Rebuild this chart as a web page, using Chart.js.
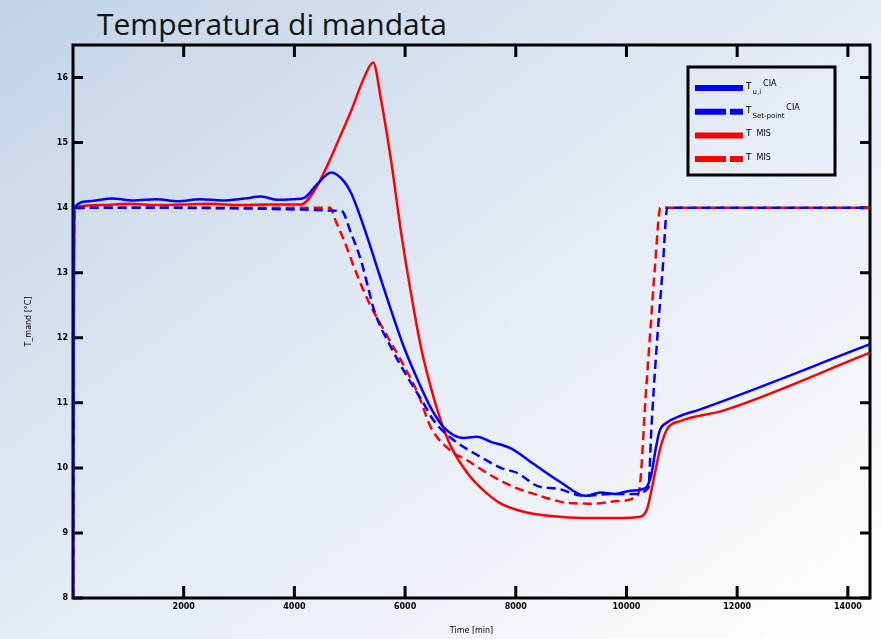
<!DOCTYPE html>
<html>
<head>
<meta charset="utf-8">
<script src="https://cdn.jsdelivr.net/npm/chart.js@4.4.0/dist/chart.umd.min.js"></script>
<style>
  html, body { margin: 0; padding: 0; }
  body {
    width: 881px; height: 639px; overflow: hidden; position: relative;
    background: linear-gradient(to bottom right, #c2d3e8 0%, #e4ebf4 50%, #fdfdfe 100%);
  }
  #title {
    position: absolute; left: 97px; top: 3px;
    font-family: "Open Sans", sans-serif; font-size: 30px; color: #141414;
    white-space: nowrap;
  }
  #chart { position: absolute; left: 0; top: 0; }
</style>
</head>
<body>
<div id="title">Temperatura di mandata</div>
<canvas id="chart" width="881" height="639"></canvas>
<script>
// supply temperature, time in minutes
const timeUiCIA = [0, 20, 300, 700, 1100, 1500, 1900, 2300, 2700, 3100, 3400, 3700, 4000, 4180, 4400, 4667, 4900, 5027, 5261, 5514, 5748, 5982, 6234, 6468, 6703, 7063, 7300, 7550, 7910, 8324, 8811, 9261, 9532, 9800, 10072, 10342, 10450, 10530, 10600, 10739, 10973, 11333, 14400];
const tempUiCIA = [8, 14.0, 14.1, 14.14, 14.11, 14.13, 14.1, 14.13, 14.11, 14.14, 14.17, 14.12, 14.13, 14.15, 14.35, 14.54, 14.4, 14.22, 13.69, 13.03, 12.42, 11.85, 11.34, 10.92, 10.62, 10.46, 10.48, 10.4, 10.3, 10.06, 9.78, 9.57, 9.62, 9.6, 9.65, 9.69, 9.9, 10.3, 10.57, 10.7, 10.8, 10.9, 11.9];

const timeSetCIA = [0, 20, 4847, 5027, 5207, 5333, 5441, 5748, 6054, 6342, 6523, 6829, 7423, 7730, 8036, 8396, 8757, 9225, 9712, 10126, 10396, 10450, 10540, 10650, 10739, 14400];
const tempSetCIA = [8, 14, 13.95, 13.6, 13.18, 12.77, 12.42, 11.85, 11.38, 10.98, 10.72, 10.46, 10.14, 10.0, 9.92, 9.72, 9.68, 9.57, 9.6, 9.6, 9.69, 10.6, 11.8, 13.0, 14, 14];

const timeMIS = [0, 20, 500, 1000, 1500, 2000, 2500, 3000, 3500, 4126, 4360, 4613, 4793, 5027, 5261, 5423, 5568, 5748, 5928, 6108, 6288, 6468, 6649, 6829, 7135, 7423, 7730, 8216, 8631, 9225, 9838, 10252, 10378, 10486, 10613, 10739, 10973, 11748, 14400];
const tempMIS = [8, 14.0, 14.04, 14.06, 14.04, 14.05, 14.06, 14.04, 14.05, 14.05, 14.26, 14.68, 15.03, 15.49, 16.0, 16.23, 15.65, 14.72, 13.62, 12.68, 11.85, 11.23, 10.72, 10.33, 9.91, 9.65, 9.45, 9.31, 9.26, 9.23, 9.23, 9.25, 9.38, 9.8, 10.31, 10.6, 10.72, 10.88, 11.77];

const timeSetMIS = [0, 20, 4650, 4720, 4901, 5081, 5333, 5622, 5928, 6234, 6468, 6829, 7135, 7423, 7730, 8036, 8324, 8631, 8937, 9405, 9838, 10198, 10252, 10342, 10432, 10523, 10613, 14400];
const tempSetMIS = [8, 14, 14, 13.85, 13.49, 13.08, 12.57, 12.11, 11.65, 11.14, 10.62, 10.26, 10.11, 9.95, 9.8, 9.68, 9.6, 9.52, 9.46, 9.45, 9.49, 9.57, 9.8, 11.03, 12.11, 13.18, 14, 14];

const xTicks = [2000, 4000, 6000, 8000, 10000, 12000, 14000];
const yTicks = [8, 9, 10, 11, 12, 13, 14, 15, 16];

// legend text pieces: main symbol, subscript, suffix
const legendParts = [
    ['T', 'u,i', 'CIA'],
    ['T', 'Set-point', 'CIA'],
    ['T', '', 'MIS'],
    ['T', '', 'MIS']
];

function zip(ts, vs) {
    return ts.map((t, i) => ({x: t, y: vs[i]}));
}

function makeSet(label, ts, vs, color, dashed) {
    return {
        label: label,
        data: zip(ts, vs),
        borderColor: color,
        backgroundColor: color,
        borderWidth: 2.5,
        borderDash: dashed ? [9, 5] : [],
        pointRadius: 0,
        fill: false,
        cubicInterpolationMode: 'monotone'
    };
}

// MATLAB style box with inward tick marks
const boxAndTicks = {
    id: 'boxAndTicks',
    beforeDatasetsDraw(chart) {
        const {ctx, chartArea: a, scales: {x, y}} = chart;
        ctx.save();
        ctx.strokeStyle = '#000';
        ctx.lineWidth = 3;
        ctx.strokeRect(a.left, a.top, a.right - a.left, a.bottom - a.top);
        ctx.beginPath();
        xTicks.forEach(v => {
            const px = x.getPixelForValue(v);
            ctx.moveTo(px, a.bottom); ctx.lineTo(px, a.bottom - 12);
            ctx.moveTo(px, a.top); ctx.lineTo(px, a.top + 12);
        });
        yTicks.forEach(v => {
            const py = y.getPixelForValue(v);
            ctx.moveTo(a.left, py); ctx.lineTo(a.left + 10, py);
            ctx.moveTo(a.right, py); ctx.lineTo(a.right - 10, py);
        });
        ctx.stroke();
        ctx.restore();
    }
};

const boxLegend = {
    id: 'boxLegend',
    afterDatasetsDraw(chart) {
        const {ctx, chartArea: a} = chart;
        const left = a.right - 182, top = a.top + 22, w = 147, h = 108;
        ctx.save();
        ctx.strokeStyle = '#000';
        ctx.lineWidth = 3;
        ctx.strokeRect(left, top, w, h);
        chart.data.datasets.forEach((ds, i) => {
            const yy = top + 21 + i * 23.7;
            ctx.strokeStyle = ds.borderColor;
            ctx.lineWidth = 6;
            ctx.setLineDash(ds.borderDash.length ? [31, 4] : []);
            ctx.beginPath();
            ctx.moveTo(left + 7, yy);
            ctx.lineTo(left + 55, yy);
            ctx.stroke();
            ctx.setLineDash([]);
            const p = legendParts[i];
            let tx = left + 58;
            ctx.fillStyle = '#000';
            ctx.textBaseline = 'alphabetic';
            ctx.font = '9px "DejaVu Sans", sans-serif';
            ctx.fillText(p[0], tx, yy + 1);
            tx += ctx.measureText(p[0]).width + 1;
            ctx.font = '7px "DejaVu Sans", sans-serif';
            if (p[1]) {
                ctx.fillText(p[1], tx, yy + 6);
                tx += ctx.measureText(p[1]).width + 2;
            } else {
                tx += 4;
            }
            ctx.font = '8px "DejaVu Sans", sans-serif';
            ctx.fillText(p[2], tx, p[1] ? yy - 2 : yy + 1);
        });
        ctx.restore();
    }
};

const ctx = document.getElementById('chart').getContext('2d');

const chart = new Chart(ctx, {
    type: 'line',
    data: {
        datasets: [
            makeSet('T u,i CIA', timeUiCIA, tempUiCIA, '#0000ff', false),
            makeSet('T Set-point CIA', timeSetCIA, tempSetCIA, '#0000ff', true),
            makeSet('T MIS', timeMIS, tempMIS, '#ff0000', false),
            makeSet('T MIS', timeSetMIS, tempSetMIS, '#ff0000', true)
        ]
    },
    options: {
        responsive: false,
        animation: false,
        layout: {
            padding: {left: 0, top: 45, right: 11, bottom: 0}
        },
        plugins: {
            legend: {display: false},
            tooltip: {enabled: false}
        },
        scales: {
            x: {
                type: 'linear',
                min: 0,
                max: 14400,
                grid: {display: false, drawTicks: false},
                border: {display: false},
                afterFit: s => { s.height = 41; },
                afterBuildTicks: s => { s.ticks = xTicks.map(v => ({value: v})); },
                ticks: {
                    padding: 4,
                    maxRotation: 0,
                    color: '#000',
                    callback: v => String(v),
                    font: {family: 'DejaVu Sans', size: 8, weight: 'bold'}
                },
                title: {
                    display: true,
                    text: 'Time [min]',
                    color: '#000',
                    padding: {top: 0, bottom: 3},
                    font: {family: 'DejaVu Sans', size: 8}
                }
            },
            y: {
                min: 8,
                max: 16.5,
                grid: {display: false, drawTicks: false},
                border: {display: false},
                afterFit: s => { s.width = 73; },
                afterBuildTicks: s => { s.ticks = yTicks.map(v => ({value: v})); },
                ticks: {
                    padding: 5,
                    color: '#000',
                    font: {family: 'DejaVu Sans', size: 8, weight: 'bold'}
                },
                title: {
                    display: true,
                    text: 'T_mand [°C]',
                    color: '#000',
                    padding: {top: 24, bottom: 0},
                    font: {family: 'DejaVu Sans', size: 8}
                }
            }
        }
    },
    plugins: [boxAndTicks, boxLegend]
});
</script>
</body>
</html>
